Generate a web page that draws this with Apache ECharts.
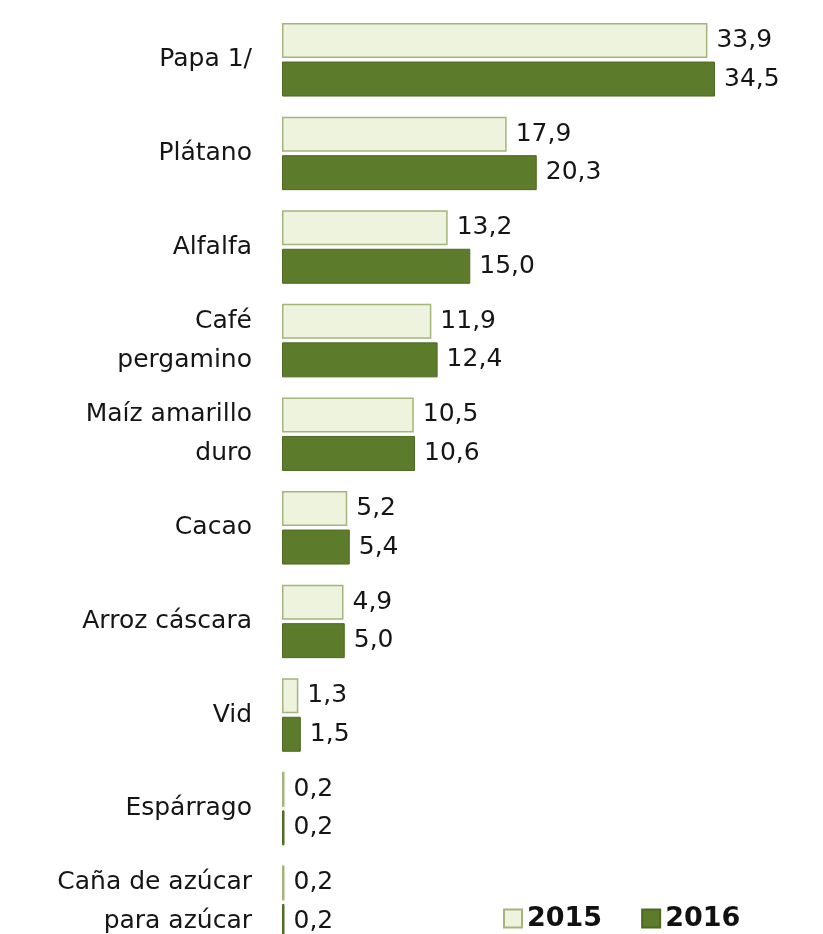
<!DOCTYPE html>
<html lang="es">
<head>
    <meta charset="UTF-8">
    <title>Producción 2015-2016</title>
    <script src="https://cdn.jsdelivr.net/npm/echarts@6/dist/echarts.min.js"></script>
    <style>
        html, body { margin: 0; padding: 0; background: #fff; overflow: hidden; }
        #chart { width: 823px; height: 960px; }
    </style>
</head>
<body>
    <div id="chart"></div>
    <script type="text/javascript">
        var categories = ['Papa 1/', 'Plátano', 'Alfalfa', 'Café\npergamino', 'Maíz amarillo\nduro',
            'Cacao', 'Arroz cáscara', 'Vid', 'Espárrago', 'Caña de azúcar\npara azúcar'];
        var values2015 = [33.9, 17.9, 13.2, 11.9, 10.5, 5.2, 4.9, 1.3, 0.2, 0.2];
        var values2016 = [34.5, 20.3, 15.0, 12.4, 10.6, 5.4, 5.0, 1.5, 0.2, 0.2];
        var seriesNames = ['2015', '2016'];

        var font = 'DejaVu Sans, sans-serif';
        var fmt = function (p) { return p.value.toFixed(1).replace('.', ','); };

        var myChart = echarts.init(document.getElementById('chart'));
        var option = {
            animation: false,
            textStyle: { fontFamily: font },
            grid: {
                left: 282,
                top: 13,
                width: 502,
                height: 936,
                containLabel: false
            },
            legend: {
                left: 498,
                top: 900,
                icon: 'rect',
                itemWidth: 18,
                itemHeight: 18,
                itemGap: 39,
                textStyle: { fontSize: 27, fontWeight: 'bold', color: '#111', fontFamily: font },
                data: seriesNames
            },
            xAxis: {
                type: 'value',
                min: 0,
                max: 40,
                show: false
            },
            yAxis: {
                type: 'category',
                inverse: true,
                data: categories,
                axisLine: { show: false },
                axisTick: { show: false },
                axisLabel: {
                    margin: 30,
                    fontSize: 25,
                    lineHeight: 39,
                    color: '#151515',
                    align: 'right',
                    fontFamily: font
                }
            },
            series: [{
                name: seriesNames[0],
                type: 'bar',
                data: values2015,
                barWidth: 35,
                barGap: '10%',
                itemStyle: { color: '#eef3de', borderColor: '#a3b57c', borderWidth: 1.5 },
                label: { show: true, position: 'right', distance: 9, fontSize: 25, color: '#151515', formatter: fmt, fontFamily: font }
            }, {
                name: seriesNames[1],
                type: 'bar',
                data: values2016,
                barWidth: 35,
                itemStyle: { color: '#5c7b2b', borderColor: '#4d6a22', borderWidth: 1 },
                label: { show: true, position: 'right', distance: 9, fontSize: 25, color: '#151515', formatter: fmt, fontFamily: font }
            }]
        };
        myChart.setOption(option);
        window.onresize = myChart.resize;
    </script>
</body>
</html>
